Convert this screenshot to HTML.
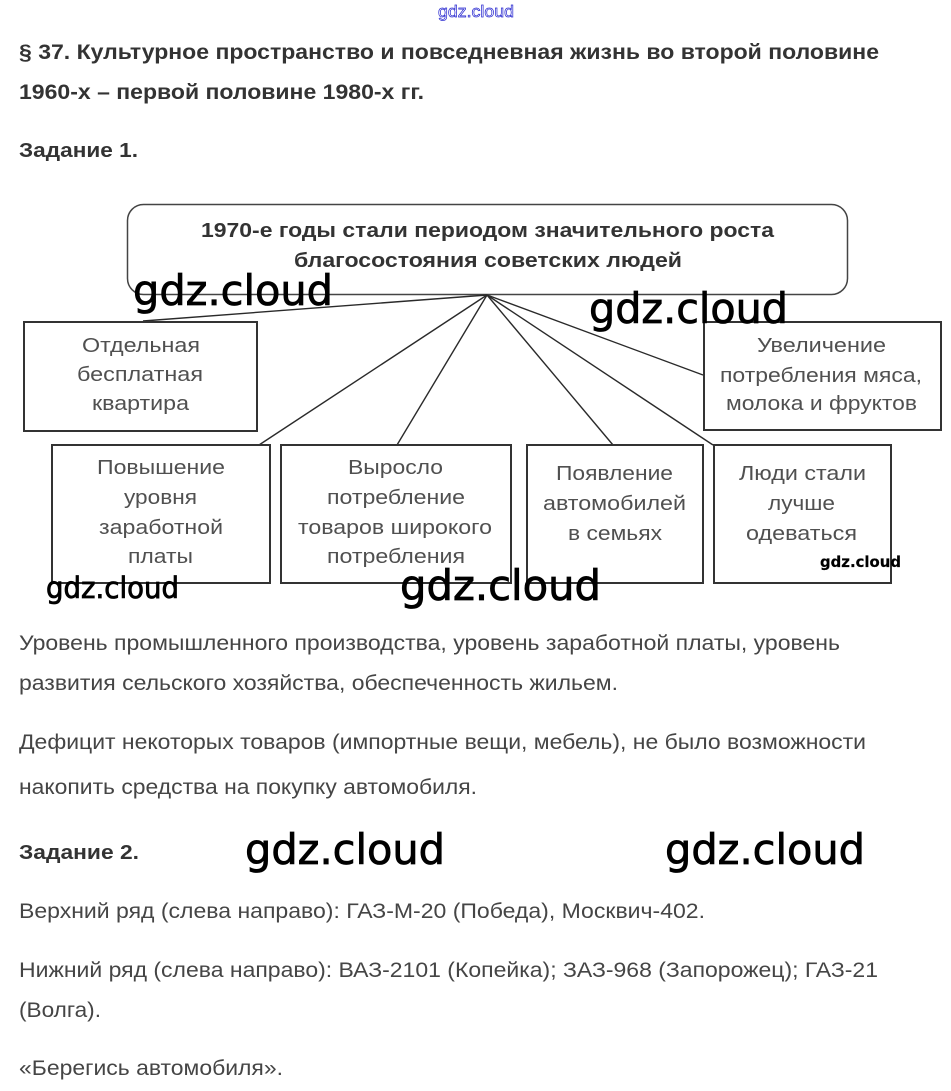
<!DOCTYPE html>
<html><head><meta charset="utf-8"><style>
html,body{margin:0;padding:0;background:#fff;}
svg{display:block;}
.h{font-family:"Liberation Sans",Arial,sans-serif;font-weight:bold;fill:#333;}
.b{font-family:"Liberation Sans",Arial,sans-serif;fill:#454545;}
.bx{font-family:"Liberation Sans",Arial,sans-serif;fill:#505050;}
.w{font-family:"DejaVu Sans",sans-serif;fill:#000;stroke:#000;stroke-width:0.8;}
</style></head><body>
<svg width="951" height="1091" viewBox="0 0 951 1091" xmlns="http://www.w3.org/2000/svg">
<rect width="951" height="1091" fill="#fff"/>
<text x="438" y="17" font-family="Liberation Sans, Arial, sans-serif" font-size="17" fill="#fff" stroke="#2a2ad0" stroke-width="0.7" textLength="76" lengthAdjust="spacingAndGlyphs">gdz.cloud</text>

<text class="h" x="19" y="59" font-size="21" textLength="860" lengthAdjust="spacingAndGlyphs">§ 37. Культурное пространство и повседневная жизнь во второй половине</text>
<text class="h" x="19" y="99" font-size="21" textLength="405" lengthAdjust="spacingAndGlyphs">1960-х – первой половине 1980-х гг.</text>
<text class="h" x="19" y="157" font-size="20" textLength="119" lengthAdjust="spacingAndGlyphs">Задание 1.</text>

<rect x="127.5" y="204.5" width="720" height="90" rx="16" ry="16" fill="#fff" stroke="#444" stroke-width="1.5"/>
<text class="h" x="201" y="237" font-size="20" textLength="573" lengthAdjust="spacingAndGlyphs">1970-е годы стали периодом значительного роста</text>
<text class="h" x="294" y="267" font-size="20" textLength="388" lengthAdjust="spacingAndGlyphs">благосостояния советских людей</text>

<g stroke="#2a2a2a" stroke-width="1.4" fill="none">
<line x1="487" y1="295" x2="143" y2="321"/>
<line x1="487" y1="295" x2="259" y2="445"/>
<line x1="487" y1="295" x2="397" y2="445"/>
<line x1="487" y1="295" x2="613" y2="445"/>
<line x1="487" y1="295" x2="713" y2="445"/>
<line x1="487" y1="295" x2="703" y2="375"/>
</g>

<g fill="#fff" stroke="#333" stroke-width="2">
<rect x="24" y="322" width="233" height="109"/>
<rect x="704" y="322" width="237" height="108"/>
<rect x="52" y="445" width="218" height="138"/>
<rect x="281" y="445" width="230" height="138"/>
<rect x="527" y="445" width="176" height="138"/>
<rect x="714" y="445" width="177" height="138"/>
</g>

<g class="bx" font-size="20">
<text class="bx" x="82" y="352" textLength="118" lengthAdjust="spacingAndGlyphs">Отдельная</text>
<text class="bx" x="77" y="381" textLength="126" lengthAdjust="spacingAndGlyphs">бесплатная</text>
<text class="bx" x="92" y="410" textLength="97" lengthAdjust="spacingAndGlyphs">квартира</text>

<text class="bx" x="757" y="352" textLength="129" lengthAdjust="spacingAndGlyphs">Увеличение</text>
<text class="bx" x="720" y="382" textLength="202" lengthAdjust="spacingAndGlyphs">потребления мяса,</text>
<text class="bx" x="726" y="410" textLength="191" lengthAdjust="spacingAndGlyphs">молока и фруктов</text>

<text class="bx" x="97" y="474" textLength="128" lengthAdjust="spacingAndGlyphs">Повышение</text>
<text class="bx" x="124" y="504" textLength="73" lengthAdjust="spacingAndGlyphs">уровня</text>
<text class="bx" x="99" y="534" textLength="124" lengthAdjust="spacingAndGlyphs">заработной</text>
<text class="bx" x="128" y="563" textLength="65" lengthAdjust="spacingAndGlyphs">платы</text>

<text class="bx" x="348" y="474" textLength="95" lengthAdjust="spacingAndGlyphs">Выросло</text>
<text class="bx" x="327" y="504" textLength="138" lengthAdjust="spacingAndGlyphs">потребление</text>
<text class="bx" x="298" y="534" textLength="194" lengthAdjust="spacingAndGlyphs">товаров широкого</text>
<text class="bx" x="327" y="563" textLength="138" lengthAdjust="spacingAndGlyphs">потребления</text>

<text class="bx" x="556" y="480" textLength="117" lengthAdjust="spacingAndGlyphs">Появление</text>
<text class="bx" x="543" y="510" textLength="143" lengthAdjust="spacingAndGlyphs">автомобилей</text>
<text class="bx" x="568" y="540" textLength="94" lengthAdjust="spacingAndGlyphs">в семьях</text>

<text class="bx" x="739" y="480" textLength="127" lengthAdjust="spacingAndGlyphs">Люди стали</text>
<text class="bx" x="768" y="510" textLength="67" lengthAdjust="spacingAndGlyphs">лучше</text>
<text class="bx" x="746" y="540" textLength="111" lengthAdjust="spacingAndGlyphs">одеваться</text>
</g>

<text class="b" x="19" y="650" font-size="21" textLength="821" lengthAdjust="spacingAndGlyphs">Уровень промышленного производства, уровень заработной платы, уровень</text>
<text class="b" x="19" y="690" font-size="21" textLength="599" lengthAdjust="spacingAndGlyphs">развития сельского хозяйства, обеспеченность жильем.</text>
<text class="b" x="19" y="749" font-size="21" textLength="847" lengthAdjust="spacingAndGlyphs">Дефицит некоторых товаров (импортные вещи, мебель), не было возможности</text>
<text class="b" x="19" y="794" font-size="21" textLength="458" lengthAdjust="spacingAndGlyphs">накопить средства на покупку автомобиля.</text>
<text class="h" x="19" y="859" font-size="20" textLength="120" lengthAdjust="spacingAndGlyphs">Задание 2.</text>
<text class="b" x="19" y="918" font-size="21" textLength="686" lengthAdjust="spacingAndGlyphs">Верхний ряд (слева направо): ГАЗ-М-20 (Победа), Москвич-402.</text>
<text class="b" x="19" y="977" font-size="21" textLength="859" lengthAdjust="spacingAndGlyphs">Нижний ряд (слева направо): ВАЗ-2101 (Копейка); ЗАЗ-968 (Запорожец); ГАЗ-21</text>
<text class="b" x="19" y="1017" font-size="21" textLength="82" lengthAdjust="spacingAndGlyphs">(Волга).</text>
<text class="b" x="19" y="1075" font-size="21" textLength="264" lengthAdjust="spacingAndGlyphs">«Берегись автомобиля».</text>

<text class="w" x="133" y="305" font-size="42" textLength="200" lengthAdjust="spacingAndGlyphs">gdz.cloud</text>
<text class="w" x="589" y="323" font-size="42" textLength="199" lengthAdjust="spacingAndGlyphs">gdz.cloud</text>
<text class="w" x="46" y="598" font-size="29" textLength="133" lengthAdjust="spacingAndGlyphs">gdz.cloud</text>
<text class="w" x="400" y="600" font-size="42" textLength="201" lengthAdjust="spacingAndGlyphs">gdz.cloud</text>
<text class="w" x="820" y="567" font-size="15" font-weight="bold" style="stroke-width:0.2" textLength="81" lengthAdjust="spacingAndGlyphs">gdz.cloud</text>
<text class="w" x="245" y="864" font-size="42" textLength="200" lengthAdjust="spacingAndGlyphs">gdz.cloud</text>
<text class="w" x="665" y="864" font-size="42" textLength="200" lengthAdjust="spacingAndGlyphs">gdz.cloud</text>
</svg>
</body></html>
